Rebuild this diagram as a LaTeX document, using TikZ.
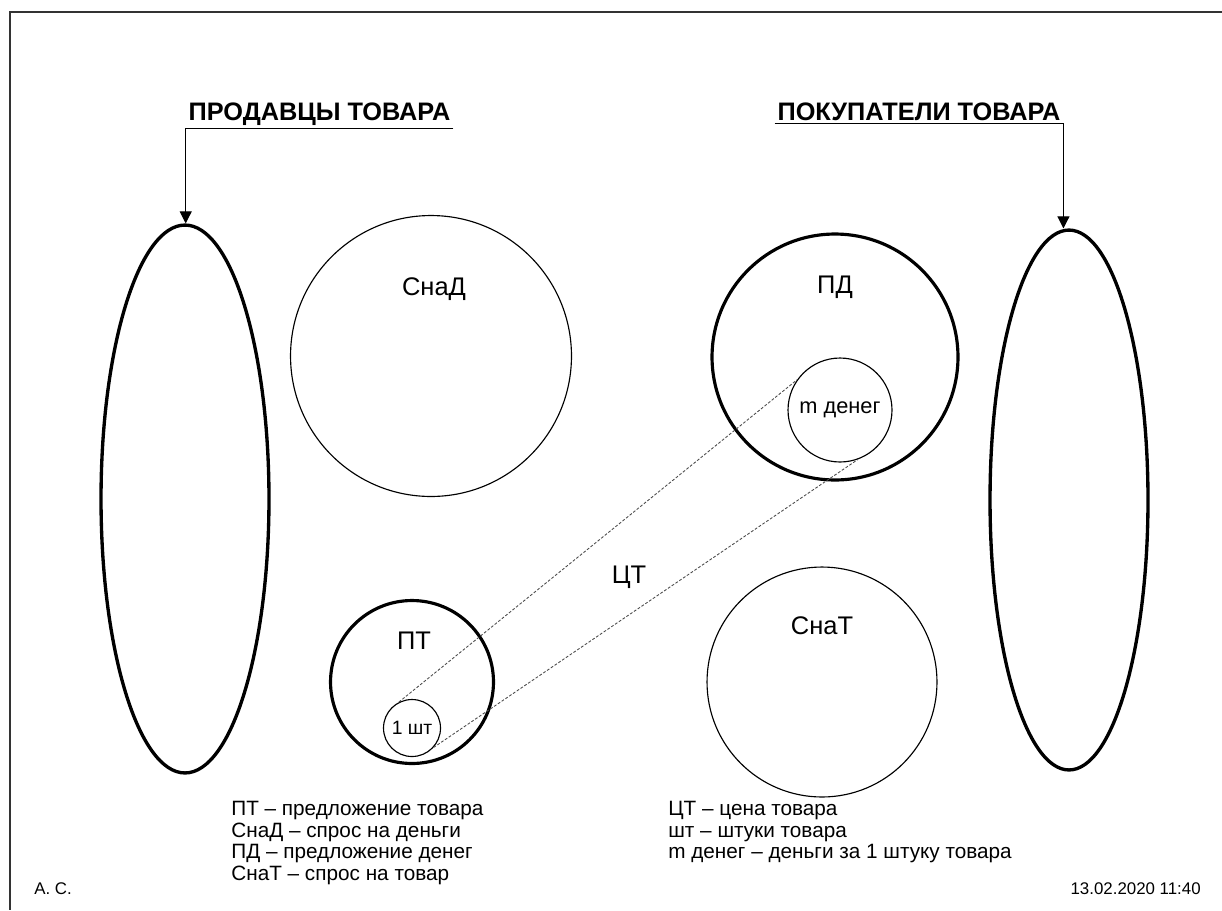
\documentclass[tikz,border=0pt]{standalone}
\usepackage{fontspec}
\setmainfont{Liberation Sans}
\usetikzlibrary{arrows.meta,positioning,shapes.geometric}

\begin{document}
\begin{tikzpicture}[x=0.02cm, y=-0.02cm,
    bigring/.style={circle, draw, line width=1.8pt, inner sep=0pt},
    ring/.style={circle, draw, line width=0.65pt, inner sep=0pt},
    oval/.style={ellipse, draw, line width=1.9pt, inner sep=0pt},
    headline/.style={font=\fontsize{14.4}{16}\selectfont\bfseries, inner sep=1.5pt},
    tag/.style={font=\fontsize{14.5}{17}\selectfont, inner sep=0pt},
    smalltag/.style={font=\fontsize{11.5}{13}\selectfont, inner sep=0pt},
    legendtext/.style={font=\fontsize{11.8}{12.3}\selectfont, align=left, inner sep=0pt, anchor=north west},
    note/.style={font=\fontsize{9.6}{11}\selectfont, inner sep=0pt},
    arrow/.style={-{Triangle[length=2.4mm, width=2.4mm]}, line width=0.6pt},
    dashline/.style={dash pattern=on 1.6pt off 1pt, line width=0.5pt, black!70},
]
    \useasboundingbox (0,0) rectangle (1222,910);
    \draw[line width=1.5pt, black!80] (1222,12) -- (10,12) -- (10,910);

    % sellers and buyers
    \node[headline, anchor=base] (sellers) at (319.5,120) {ПРОДАВЦЫ ТОВАРА};
    \node[headline, anchor=base] (buyers) at (919,120) {ПОКУПАТЕЛИ ТОВАРА};
    \node[oval, minimum width=3.36cm, minimum height=10.96cm] (sellersOval) at (185,499) {};
    \node[oval, minimum width=3.16cm, minimum height=10.8cm] (buyersOval) at (1069,500) {};
    \draw[arrow] (sellers.south east) -- (sellers.south west) -- (sellers.south west |- sellersOval.north);
    \draw[arrow] (buyers.south west) -- (buyers.south east) -- (buyers.south east |- buyersOval.north);

    % money and goods
    \node[ring, minimum size=5.62cm] (moneyDemand) at (431,356) {};
    \node[tag] (moneyDemandLabel) at (434,289) {СнаД};
    \node[bigring, minimum size=4.92cm] (moneySupply) at (835,357) {};
    \node[tag] (moneySupplyLabel) at (835,287) {ПД};
    \node[ring, smalltag, font=\fontsize{12.4}{14}\selectfont, minimum size=2.08cm] (money) at (840,410) {m денег};
    \node[bigring, minimum size=3.26cm] (goodsSupply) at (412,682) {};
    \node[tag] (goodsSupplyLabel) at (414,641) {ПТ};
    \node[ring, smalltag, font=\fontsize{11}{13}\selectfont, minimum size=1.14cm] (piece) at (412,728) {1 шт};
    \node[ring, minimum size=4.6cm] (goodsDemand) at (822,682) {};
    \node[tag] (goodsDemandLabel) at (822,626) {СнаТ};

    \draw[dashline] (piece.117) -- (money.145);
    \draw[dashline] (piece.-42) -- (money.-70);
    \node[tag] (price) at (629,577) {ЦТ};

    % legend
    \node[legendtext] (leftLegend) at (231,801) {ПТ – предложение товара\\СнаД – спрос на деньги\\ПД – предложение денег\\СнаТ – спрос на товар};
    \node[legendtext] (rightLegend) at (668,801) {ЦТ – цена товара\\шт – штуки товара\\m денег – деньги за 1 штуку товара};
    \node[note, anchor=west] (author) at (34,889) {А. С.};
    \node[note, anchor=east] (stamp) at (1201,889) {13.02.2020 11:40};
\end{tikzpicture}
\end{document}
